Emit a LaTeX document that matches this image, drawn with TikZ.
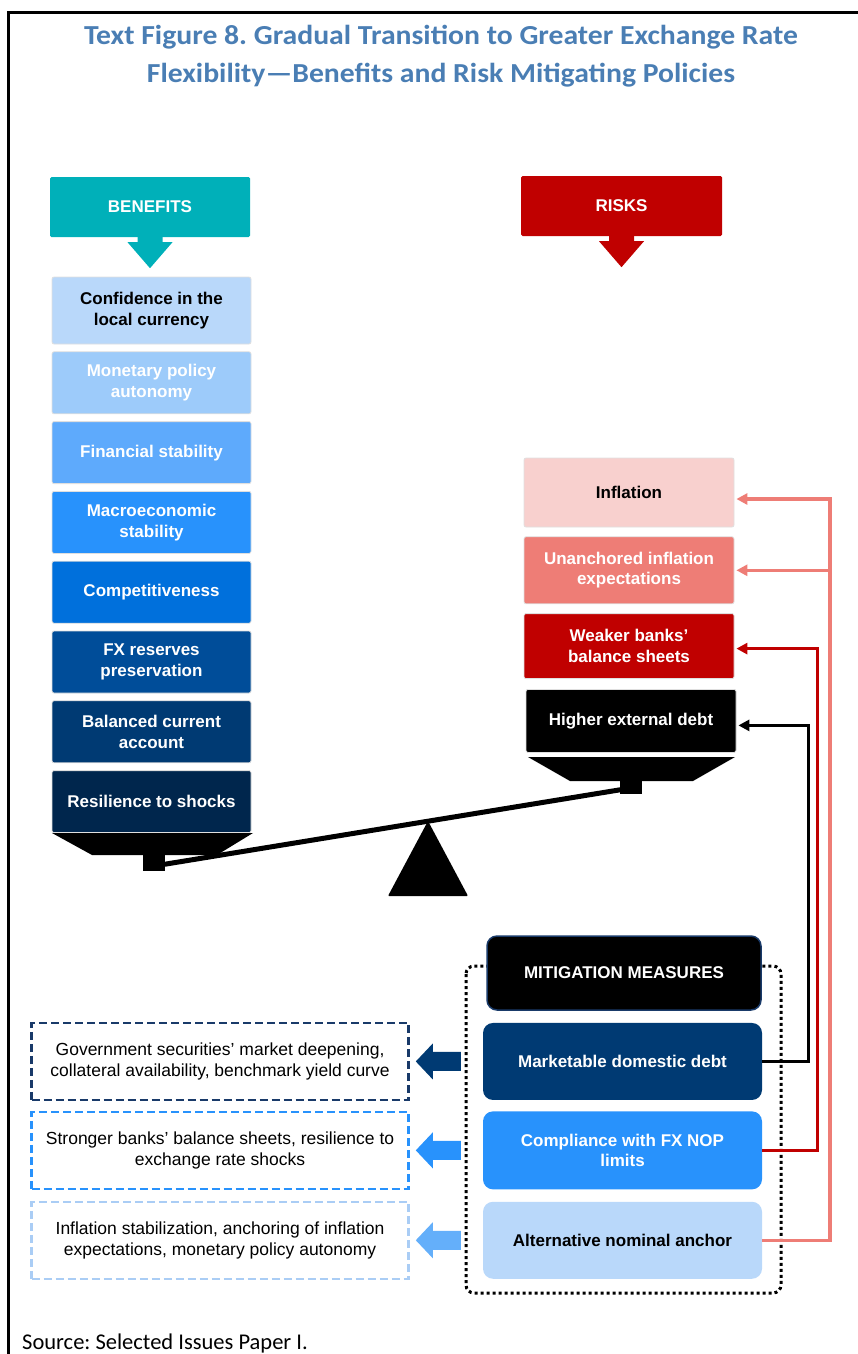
\documentclass[tikz,border=0pt]{standalone}
\usepackage{fontspec}
\setmainfont{Liberation Sans}
\newfontfamily\calibri{Carlito}
\newfontfamily\titlefont[FakeStretch=1.08]{Carlito}
\usepackage{tikz}
\usetikzlibrary{arrows.meta, positioning}
\frenchspacing

\definecolor{titleblue}{RGB}{74,126,180}
\definecolor{benteal}{RGB}{0,176,185}
\definecolor{riskred}{RGB}{192,0,0}
\definecolor{blueA}{RGB}{185,216,250}
\definecolor{blueB}{RGB}{157,203,250}
\definecolor{blueC}{RGB}{94,170,252}
\definecolor{blueD}{RGB}{40,146,252}
\definecolor{blueE}{RGB}{0,112,220}
\definecolor{blueF}{RGB}{0,77,153}
\definecolor{blueG}{RGB}{0,58,115}
\definecolor{blueH}{RGB}{0,38,77}
\definecolor{pinkA}{RGB}{248,208,206}
\definecolor{salmon}{RGB}{238,125,118}
\definecolor{navyline}{RGB}{25,58,105}
\definecolor{paleline}{RGB}{170,205,245}
\definecolor{arrowC}{RGB}{100,175,250}

\begin{document}
\begin{tikzpicture}[x=1pt, y=-1pt, >={Triangle[length=11pt, width=11pt]}]

		% Define styles
		\tikzstyle{header} = [rectangle, rounded corners=1.5pt, text=white, font=\bfseries\fontsize{17}{20.5}\selectfont, minimum width=200pt, minimum height=60pt]
		\tikzstyle{benefit} = [rectangle, draw=gray!25, line width=0.8pt, rounded corners=2pt, text=white, font=\bfseries\fontsize{17}{20.5}\selectfont, align=center, minimum width=199pt, minimum height=62pt, inner sep=2pt]
		\tikzstyle{risk} = [benefit, minimum width=210pt]
		\tikzstyle{measure} = [rectangle, rounded corners=10pt, text=white, font=\bfseries\fontsize{17}{20.5}\selectfont, align=center, minimum width=279pt, minimum height=77pt]
		\tikzstyle{effect} = [rectangle, dash pattern=on 8pt off 4pt, line width=2.5pt, font=\fontsize{17.5}{21}\selectfont, align=center, minimum width=377pt, minimum height=77pt, inner sep=2pt]
		\tikzstyle{link} = [->, line width=3pt, shorten >=2pt]

		\useasboundingbox (0,0) rectangle (858,1354);

		% Frame and title
		\draw[line width=3pt] (858,12.5) -- (8.5,12.5) -- (8.5,1356);
		\node[font=\titlefont\bfseries\fontsize{27.5}{37.5}\selectfont, text=titleblue, align=center] (title) at (441,56) {Text Figure 8. Gradual Transition to Greater Exchange Rate\\Flexibility\textemdash Benefits and Risk Mitigating Policies};

		% Headers
		\node[header, fill=benteal] (ben) at (150,207) {BENEFITS};
		\node[header, fill=riskred, minimum width=201pt] (risks) at (621.5,206) {RISKS};
		\fill[benteal] ([xshift=-12.5pt]ben.south) -- ++(0,5) -- ++(-10,0) -- ++(22.5,26) -- ++(22.5,-26) -- ++(-10,0) -- ++(0,-5) -- cycle;
		\fill[riskred] ([xshift=-12.5pt]risks.south) -- ++(0,5) -- ++(-10,0) -- ++(22.5,26) -- ++(22.5,-26) -- ++(-10,0) -- ++(0,-5) -- cycle;

		% Benefits
		\node[benefit, fill=blueA, text=black, minimum height=67pt] (conf) at (151.5,310.5) {Confidence in the\\local currency};
		\node[benefit, fill=blueB, below=7pt of conf] (mpa) {Monetary policy\\autonomy};
		\node[benefit, fill=blueC, below=7pt of mpa] (fin) {Financial stability};
		\node[benefit, fill=blueD, below=7pt of fin] (macro) {Macroeconomic\\stability};
		\node[benefit, fill=blueE, below=7pt of macro] (comp) {Competitiveness};
		\node[benefit, fill=blueF, below=7pt of comp] (fxres) {FX reserves\\preservation};
		\node[benefit, fill=blueG, below=7pt of fxres] (bca) {Balanced current\\account};
		\node[benefit, fill=blueH, below=7pt of bca] (resil) {Resilience to shocks};

		% Risks
		\node[risk, fill=pinkA, text=black, minimum height=69pt] (infl) at (629,492.5) {Inflation};
		\node[risk, fill=salmon, minimum height=67pt, below=9pt of infl] (unanch) {Unanchored inflation\\expectations};
		\node[risk, fill=riskred, minimum height=65pt, below=9pt of unanch] (weak) {Weaker banks’\\balance sheets};
		\node[risk, fill=black, minimum height=63pt, below=10pt of weak, xshift=2pt] (debt) {Higher external debt};

		% Balance
		\coordinate (lpan) at (154,866);
		\coordinate (rpan) at (631,788);
		\fill (52,833) -- (253,833) -- (217,855) -- (92,855) -- cycle;
		\fill (143,853) rectangle (165,871);
		\fill (528,757) -- (735,757) -- (693,781) -- (570,781) -- cycle;
		\fill (620,779) rectangle (642,794);
		\draw[line width=5pt] (lpan) -- (rpan);
		\fill[rounded corners=1pt] (428,821) -- (468,896) -- (388,896) -- cycle;

		% Mitigation measures
		\draw[line width=3pt, dash pattern=on 3pt off 3pt, rounded corners=8pt] (466,966) rectangle (781,1293);
		\node[measure, fill=black, draw=navyline, line width=1.5pt, minimum width=274pt, minimum height=74pt] (mhead) at (624,973) {MITIGATION MEASURES};
		\node[measure, fill=blueG, below=12pt of mhead, xshift=-1.5pt] (mkt) {Marketable domestic debt};
		\node[measure, fill=blueD, minimum height=78pt, below=11pt of mkt] (nop) {Compliance with FX NOP\\limits};
		\node[measure, fill=blueA, text=black, below=12pt of nop] (anchor) {Alternative nominal anchor};

		% Outcomes
		\node[effect, draw=navyline, left=73pt of mkt] (gsec) {Government securities’ market deepening,\\collateral availability, benchmark yield curve};
		\node[effect, draw=blueD, left=73pt of nop] (banks) {Stronger banks’ balance sheets, resilience to\\exchange rate shocks};
		\node[effect, draw=paleline, left=73pt of anchor] (stab) {Inflation stabilization, anchoring of inflation\\expectations, monetary policy autonomy};

		\fill[blueG] ([xshift=6pt]gsec.east) -- ++(17,-18) -- ++(0,8.5) -- ++(28,0) -- ++(0,19) -- ++(-28,0) -- ++(0,8.5) -- cycle;
		\fill[blueD] ([xshift=6pt]banks.east) -- ++(17,-18) -- ++(0,8.5) -- ++(28,0) -- ++(0,19) -- ++(-28,0) -- ++(0,8.5) -- cycle;
		\fill[arrowC] ([xshift=6pt]stab.east) -- ++(17,-18) -- ++(0,8.5) -- ++(28,0) -- ++(0,19) -- ++(-28,0) -- ++(0,8.5) -- cycle;

		% Arrows
		\draw[link, black] (mkt.east) -- ++(46,0) |- ([yshift=-4.5pt]debt.east);
		\draw[link, riskred] (nop.east) -- ++(55,0) |- ([yshift=-2.5pt]weak.east);
		\draw[link, salmon, line width=3.5pt] (anchor.east) -- ++(68,0) coordinate (salbot) |- ([yshift=-6.5pt]infl.east);
		\draw[link, salmon, line width=3.5pt] (salbot |- unanch.east) -- (unanch.east);

		% Source
		\node[anchor=base west, font=\calibri\fontsize{22.5}{27}\selectfont, inner sep=0pt] (src) at (22,1349) {Source: Selected Issues Paper I.};

	\end{tikzpicture}
\end{document}
